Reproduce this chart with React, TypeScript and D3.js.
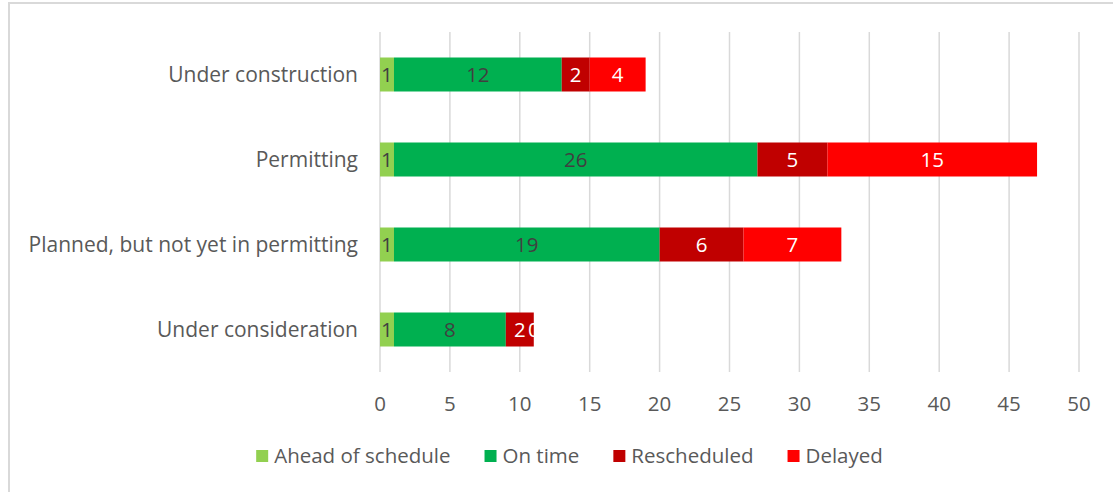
import React, { useEffect, useRef } from "react";
import * as d3 from "d3";

const categories = [
  "Under construction",
  "Permitting",
  "Planned, but not yet in permitting",
  "Under consideration",
];
const seriesNames = ["Ahead of schedule", "On time", "Rescheduled", "Delayed"];
const aheadOfSchedule = [1, 1, 1, 1];
const onTime = [12, 26, 19, 8];
const rescheduled = [2, 5, 6, 2];
const delayed = [4, 15, 7, 0];
const xTicks = [0, 5, 10, 15, 20, 25, 30, 35, 40, 45, 50];

const colors = ["#92D050", "#00B050", "#C00000", "#FF0000"];
const labelColors = ["#404040", "#404040", "#FFFFFF", "#FFFFFF"];

const W = 1113;
const H = 492;
const FONT = "'Open Sans', sans-serif";
const FS = 20.5;

export default function App() {
  const ref = useRef<SVGSVGElement | null>(null);

  useEffect(() => {
    const svg = d3.select(ref.current);
    svg.selectAll("*").remove();

    const x = d3.scaleLinear().domain([0, 50]).range([380, 1079]);
    const y = d3
      .scaleBand<string>()
      .domain(categories)
      .range([32, 372])
      .paddingInner(0.6)
      .paddingOuter(0.3);

    // border
    svg
      .append("path")
      .attr("d", `M9,${H} L9,3 L${W},3`)
      .attr("fill", "none")
      .attr("stroke", "#D9D9D9")
      .attr("stroke-width", 2);

    // gridlines
    svg
      .append("g")
      .selectAll("line")
      .data(xTicks)
      .join("line")
      .attr("x1", (d) => x(d))
      .attr("x2", (d) => x(d))
      .attr("y1", 32)
      .attr("y2", 372)
      .attr("stroke", "#D9D9D9")
      .attr("stroke-width", 1.5);

    const rows = categories.map((c, i) => ({
      cat: c,
      vals: [aheadOfSchedule[i], onTime[i], rescheduled[i], delayed[i]],
    }));
    const stacked = d3
      .stack<any>()
      .keys([0, 1, 2, 3] as any)
      .value((d: any, k: any) => d.vals[k])(rows as any);

    const g = svg.append("g");
    stacked.forEach((layer, si) => {
      g.append("g")
        .selectAll("rect")
        .data(layer)
        .join("rect")
        .attr("x", (d: any) => x(d[0]))
        .attr("width", (d: any) => x(d[1]) - x(d[0]))
        .attr("y", (d: any) => y(d.data.cat)!)
        .attr("height", y.bandwidth())
        .attr("fill", colors[si]);
    });
    stacked.forEach((layer, si) => {
      g.append("g")
        .selectAll("text")
        .data(layer)
        .join("text")
        .attr("x", (d: any) => (x(d[0]) + x(d[1])) / 2)
        .attr("y", (d: any) => y(d.data.cat)! + y.bandwidth() / 2)
        .attr("dy", "0.36em")
        .attr("text-anchor", "middle")
        .attr("font-family", FONT)
        .attr("font-size", FS)
        .attr("fill", labelColors[si])
        .text((d: any) => String(d[1] - d[0]));
    });

    // category labels
    svg
      .append("g")
      .selectAll("text")
      .data(categories)
      .join("text")
      .attr("x", 358)
      .attr("y", (d) => y(d)! + y.bandwidth() / 2)
      .attr("dy", "0.36em")
      .attr("text-anchor", "end")
      .attr("font-family", FONT)
      .attr("font-size", 21)
      .attr("fill", "#595959")
      .text((d) => d);

    // x tick labels
    svg
      .append("g")
      .selectAll("text")
      .data(xTicks)
      .join("text")
      .attr("x", (d) => x(d))
      .attr("y", 411)
      .attr("text-anchor", "middle")
      .attr("font-family", FONT)
      .attr("font-size", FS)
      .attr("fill", "#595959")
      .text((d) => String(d));

    // legend
    const lg = svg.append("g");
    let cx = 0;
    seriesNames.forEach((name, i) => {
      lg.append("rect")
        .attr("x", cx)
        .attr("y", 450)
        .attr("width", 12)
        .attr("height", 12)
        .attr("fill", colors[i]);
      const t = lg
        .append("text")
        .attr("x", cx + 18)
        .attr("y", 463)
        .attr("font-family", FONT)
        .attr("font-size", FS)
        .attr("fill", "#595959")
        .text(name);
      const w = (t.node() as SVGTextElement).getComputedTextLength();
      cx += 18 + w + 34;
    });
    const total = cx - 34;
    lg.attr("transform", `translate(${W / 2 + 13 - total / 2},0)`);
  }, []);

  return (
    <svg
      ref={ref}
      width={W}
      height={H}
      style={{ position: "absolute", left: 0, top: 0, background: "#fff" }}
    />
  );
}
